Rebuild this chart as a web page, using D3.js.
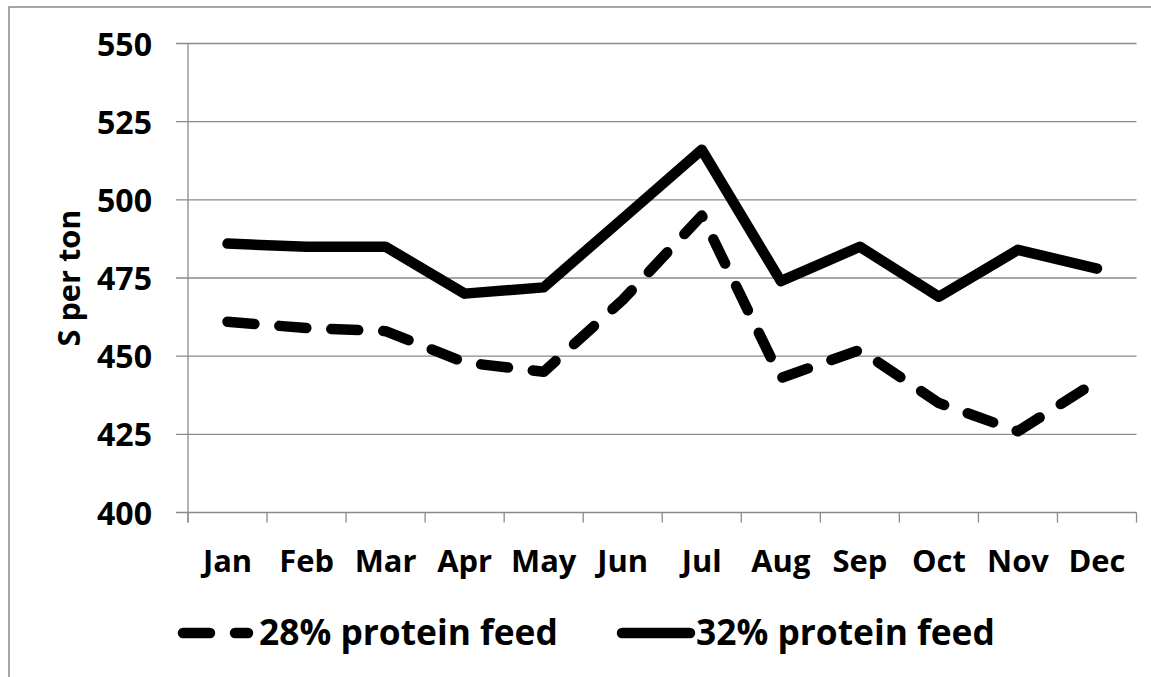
<!DOCTYPE html>
<html>
<head>
<meta charset="utf-8">
<script src="https://cdn.jsdelivr.net/npm/d3@7"></script>
<style>
  html, body { margin: 0; padding: 0; background: #fff; }
  svg { display: block; }
  text { font-family: "Open Sans", Lato, sans-serif; font-weight: bold; fill: #000; }
</style>
</head>
<body>
<svg id="chart" width="1151" height="677"></svg>
<script>
const months = ["Jan","Feb","Mar","Apr","May","Jun","Jul","Aug","Sep","Oct","Nov","Dec"];
const protein28 = [461, 459, 458, 448, 445, 468, 495, 443, 452, 435, 426, 442];
const protein32 = [486, 485, 485, 470, 472, 494, 516, 474, 485, 469, 484, 478];
const yTicks = [400, 425, 450, 475, 500, 525, 550];
const seriesNames = ["28% protein feed", "32% protein feed"];
const yTitle = "S per ton";

(function () {
const svg = d3.select("#chart");
const W = 1151, H = 677;
const pLeft = 188, pRight = 1136.5, pTop = 43.5, pBottom = 512.5;
const grid = "#8a8a8a";

// font size that makes a string a given width
function fitSize(str, target) {
  const t = svg.append("text").style("font-size", "100px").text(str);
  const w = t.node().getComputedTextLength();
  t.remove();
  return 100 * target / w;
}
const tickSize = fitSize("550", 55);
const monthSize = (fitSize("Jan", 48) + fitSize("May", 67)) / 2;
const titleSize = fitSize(yTitle, 137);
const legendSize = fitSize(seriesNames[0], 299);

// outer chart border
svg.append("rect").attr("x", 9).attr("y", 7).attr("width", W).attr("height", H)
  .attr("fill", "none").attr("stroke", grid).attr("stroke-width", 1.5);

const x = d3.scaleBand().domain(months).range([pLeft, pRight]);
const y = d3.scaleLinear().domain([400, 550]).range([pBottom, pTop]);

// gridlines + y ticks
svg.append("g").selectAll("line").data(yTicks).join("line")
  .attr("x1", pLeft - 12).attr("x2", pRight)
  .attr("y1", d => y(d)).attr("y2", d => y(d))
  .attr("stroke", grid).attr("stroke-width", 1.3);

// y axis line
svg.append("line").attr("x1", pLeft).attr("x2", pLeft).attr("y1", pTop).attr("y2", pBottom + 10)
  .attr("stroke", grid).attr("stroke-width", 1.3);

// y axis labels via d3 axis
const yAxis = svg.append("g").attr("transform", `translate(${pLeft - 36},0)`)
  .call(d3.axisLeft(y).tickValues(yTicks).tickSize(0).tickPadding(0).tickFormat(d3.format("d")));
yAxis.select(".domain").remove();
yAxis.selectAll("text").style("font-size", tickSize + "px").attr("dy", "0.36em").attr("fill", "#000");

// x tick marks at band boundaries
const bounds = months.map(m => x(m)).concat([pRight]);
svg.append("g").selectAll("line").data(bounds).join("line")
  .attr("x1", d => d).attr("x2", d => d)
  .attr("y1", pBottom).attr("y2", pBottom + 10)
  .attr("stroke", grid).attr("stroke-width", 1.3);

// x labels via d3 axis
const xAxis = svg.append("g").attr("transform", `translate(0,${pBottom})`)
  .call(d3.axisBottom(x).tickSize(0).tickPadding(0));
xAxis.select(".domain").remove();
xAxis.selectAll("text").style("font-size", monthSize + "px").attr("y", 0).attr("dy", 0)
  .attr("transform", "translate(0,59)").attr("fill", "#000");

// y title
svg.append("text").attr("transform", "translate(80,278) rotate(-90)")
  .attr("text-anchor", "middle").style("font-size", titleSize + "px").text(yTitle);

// lines
const line = d3.line().x((d, i) => x(months[i]) + x.bandwidth() / 2).y(d => y(d));
svg.append("path").datum(protein32).attr("d", line)
  .attr("fill", "none").attr("stroke", "#000").attr("stroke-width", 10.5)
  .attr("stroke-linejoin", "round").attr("stroke-linecap", "round");
svg.append("path").datum(protein28).attr("d", line)
  .attr("fill", "none").attr("stroke", "#000").attr("stroke-width", 10.5)
  .attr("stroke-linejoin", "round").attr("stroke-linecap", "round")
  .attr("stroke-dasharray", "27,25");

// legend
const ly = 633;
svg.append("line").attr("x1", 183).attr("x2", 248).attr("y1", ly).attr("y2", ly)
  .attr("stroke", "#000").attr("stroke-width", 10.5).attr("stroke-linecap", "round")
  .attr("stroke-dasharray", "27,25");
svg.append("text").attr("x", 259).attr("y", 645).style("font-size", legendSize + "px").text(seriesNames[0]);
svg.append("line").attr("x1", 622).attr("x2", 690).attr("y1", ly).attr("y2", ly)
  .attr("stroke", "#000").attr("stroke-width", 10.5).attr("stroke-linecap", "round");
svg.append("text").attr("x", 696).attr("y", 645).style("font-size", legendSize + "px").text(seriesNames[1]);
})();
</script>
</body>
</html>
